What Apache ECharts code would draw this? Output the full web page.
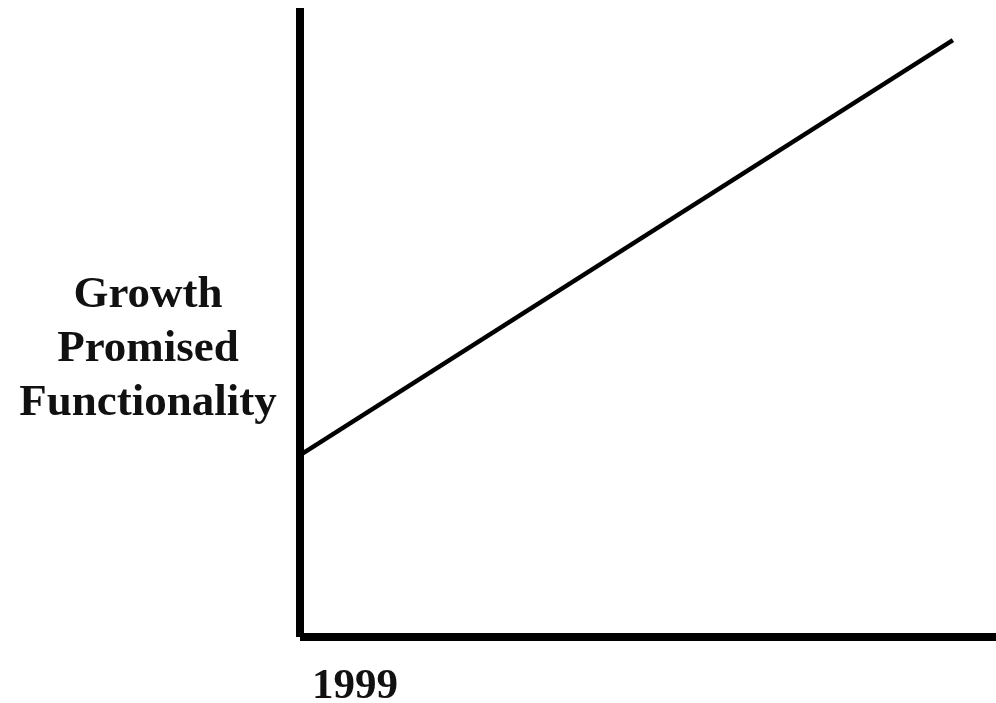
<!DOCTYPE html>
<html>
<head>
<meta charset="utf-8">
<script src="https://cdn.jsdelivr.net/npm/echarts@6/dist/echarts.min.js"></script>
<style>
  html, body { margin: 0; padding: 0; background: #fff; }
  #chart { width: 996px; height: 703px; }
</style>
</head>
<body>
<div id="chart"></div>
<script>
// data
const years = [1999, 2009];
const functionality = [28.9, 94.9];
const yName = 'Growth\nPromised\nFunctionality';
const firstYearLabel = '1999';

const chart = echarts.init(document.getElementById('chart'));

const font = '"Liberation Serif", "Times New Roman", serif';

chart.setOption({
  animation: false,
  backgroundColor: '#fff',
  // y axis caption, placed to the left of the axis
  title: {
    text: yName,
    left: 148,
    top: 268,
    padding: 0,
    textAlign: 'center',
    textStyle: {
      color: '#111',
      fontFamily: font,
      fontWeight: 'bold',
      fontSize: 45,
      lineHeight: 54
    }
  },
  grid: { left: 300, right: 0, top: 8, bottom: 66, outerBoundsMode: 'none' },
  xAxis: {
    type: 'value',
    min: 1999,
    max: 2009.66,
    splitLine: { show: false },
    axisTick: { show: false },
    axisLine: { show: true, lineStyle: { color: '#000', width: 8, cap: 'butt' } },
    axisLabel: {
      showMinLabel: true,
      showMaxLabel: false,
      margin: 29,
      align: 'left',
      verticalAlign: 'top',
      lineHeight: 42,
      padding: [0, 0, 0, 12],
      color: '#111',
      fontFamily: font,
      fontWeight: 'bold',
      fontSize: 43,
      formatter: v => (v === 1999 ? firstYearLabel : '')
    }
  },
  yAxis: {
    type: 'value',
    min: 0,
    max: 100,
    splitLine: { show: false },
    axisTick: { show: false },
    axisLabel: { show: false },
    axisLine: { show: true, lineStyle: { color: '#000', width: 8, cap: 'butt' } }
  },
  series: [{
    type: 'line',
    data: years.map((y, i) => [y, functionality[i]]),
    symbol: 'none',
    lineStyle: { color: '#000', width: 4.5 }
  }]
});
</script>
</body>
</html>
